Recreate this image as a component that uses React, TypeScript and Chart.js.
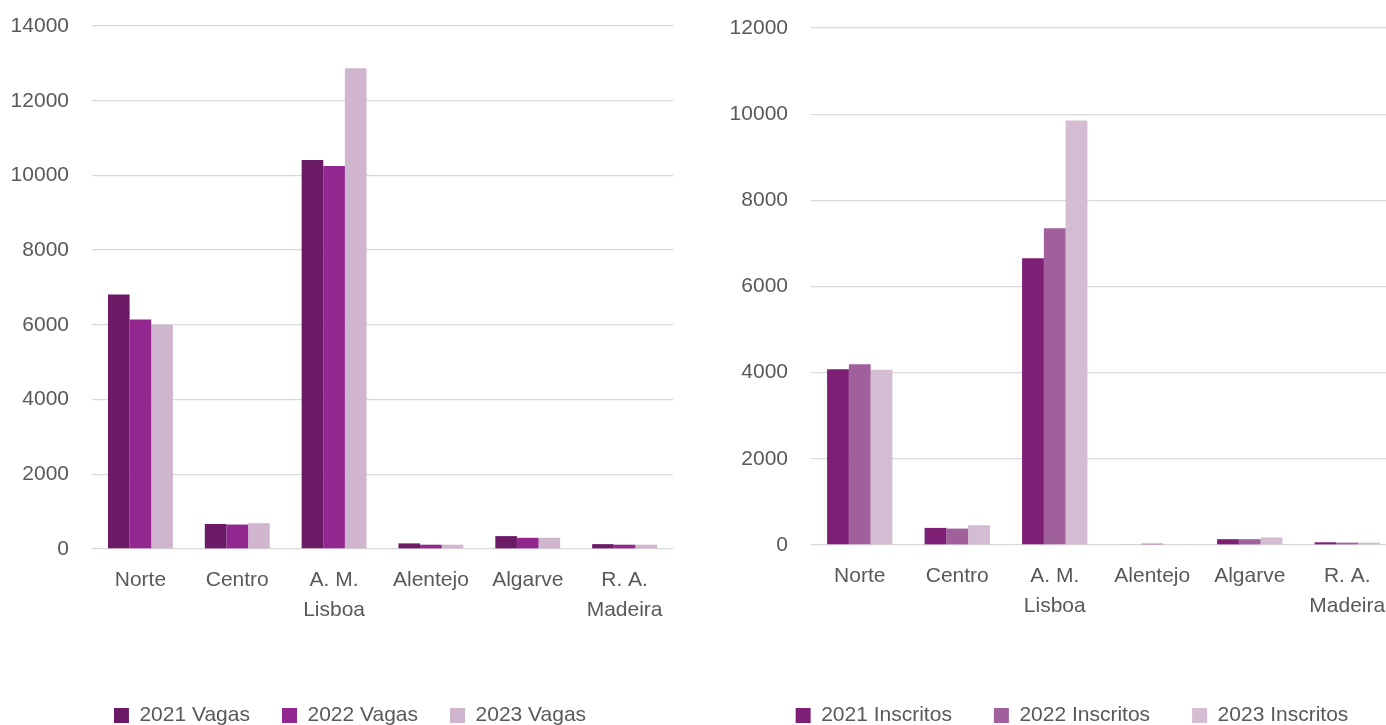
import React, { useEffect, useRef } from "react";
import { Chart, registerables } from "chart.js";

Chart.register(...registerables);

const categories: (string | string[])[] = ["Norte", "Centro", ["A. M.", "Lisboa"], "Alentejo", "Algarve", ["R. A.", "Madeira"]];

const vagas2021 = [6810, 670, 10410, 150, 345, 130];
const vagas2022 = [6145, 655, 10250, 115, 300, 115];
const vagas2023 = [6000, 690, 12870, 115, 300, 115];

const inscritos2021 = [4080, 397, 6654, 16, 135, 63];
const inscritos2022 = [4197, 381, 7352, 32, 135, 55];
const inscritos2023 = [4068, 460, 9853, 16, 175, 55];

const vagasLabels = ["2021 Vagas", "2022 Vagas", "2023 Vagas"];
const inscritosLabels = ["2021 Inscritos", "2022 Inscritos", "2023 Inscritos"];

const vagasColors = ["#6B1A66", "#92278F", "#CFB5CD"];
const inscritosColors = ["#7E1F76", "#A0609C", "#D4BDD2"];

const FONT = "'Liberation Sans', Arial, sans-serif";
const TEXT = "#595959";
const FS = 21;

type Cfg = {
  series: number[][];
  labels: string[];
  colors: string[];
  max: number;
  axisW: number;
  axisH: number;
  padTop: number;
  padR: number;
  legendPad: number;
  legendCenter: number;
};

function makeChart(canvas: HTMLCanvasElement, c: Cfg) {
  const legendShift = {
    id: "legendShift",
    beforeDraw(chart: any) {
      const lg = chart.legend;
      if (!lg) return;
      lg.left = c.legendCenter - 600;
      lg.right = c.legendCenter + 600;
      lg.width = 1200;
    },
  };
  return new Chart(canvas, {
    type: "bar",
    data: {
      labels: categories,
      datasets: c.series.map((s, i) => ({
        label: c.labels[i],
        data: s,
        backgroundColor: c.colors[i],
        borderWidth: 0,
        categoryPercentage: 0.67,
        barPercentage: 1.0,
      })),
    },
    plugins: [legendShift],
    options: {
      responsive: false,
      animation: false,
      devicePixelRatio: 1,
      layout: { padding: { left: 0, right: c.padR, top: c.padTop, bottom: 0 } },
      plugins: {
        tooltip: { enabled: false },
        legend: {
          position: "bottom",
          labels: {
            font: { family: FONT, size: FS },
            color: TEXT,
            boxWidth: 15,
            boxHeight: 15,
            padding: c.legendPad,
          },
        },
      },
      scales: {
        x: {
          grid: { display: false },
          border: { display: false },
          ticks: {
            font: { family: FONT, size: FS, lineHeight: "30px" },
            color: TEXT,
            padding: 8,
            maxRotation: 0,
            autoSkip: false,
          },
          afterFit: (axis: any) => {
            axis.height = c.axisH;
            axis.paddingTop = 0;
            axis.paddingBottom = 0;
          },
        },
        y: {
          min: 0,
          max: c.max,
          grid: { color: "#D9D9D9", lineWidth: 1.3, drawTicks: false },
          border: { display: false },
          ticks: {
            stepSize: 2000,
            font: { family: FONT, size: FS },
            color: TEXT,
            padding: 23,
            callback: (v: any) => String(v),
          },
          afterFit: (axis: any) => {
            axis.width = c.axisW;
            axis.paddingTop = 0;
            axis.paddingBottom = 0;
          },
        },
      },
    },
  });
}

export default function App() {
  const leftRef = useRef<HTMLCanvasElement>(null);
  const rightRef = useRef<HTMLCanvasElement>(null);

  useEffect(() => {
    const a = makeChart(leftRef.current!, {
      series: [vagas2021, vagas2022, vagas2023],
      labels: vagasLabels,
      colors: vagasColors,
      max: 14000,
      axisW: 92,
      axisH: 124,
      padTop: 26,
      padR: 27,
      legendPad: 32,
      legendCenter: 350,
    });
    const b = makeChart(rightRef.current!, {
      series: [inscritos2021, inscritos2022, inscritos2023],
      labels: inscritosLabels,
      colors: inscritosColors,
      max: 12000,
      axisW: 111,
      axisH: 118,
      padTop: 28,
      padR: 4,
      legendPad: 42,
      legendCenter: 372,
    });
    return () => {
      a.destroy();
      b.destroy();
    };
  }, []);

  return (
    <div
      style={{
        position: "fixed",
        left: 0,
        top: 0,
        width: 1386,
        height: 725,
        overflow: "hidden",
        background: "#fff",
      }}
    >
      <canvas ref={leftRef} width={700} height={736} style={{ position: "absolute", left: 0, top: 0 }} />
      <canvas ref={rightRef} width={700} height={736} style={{ position: "absolute", left: 700, top: 0 }} />
    </div>
  );
}
